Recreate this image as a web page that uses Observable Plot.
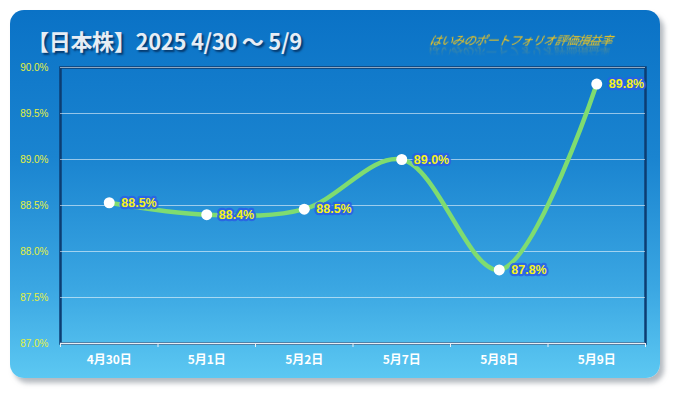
<!DOCTYPE html>
<html><head><meta charset="utf-8">
<script src="https://cdn.jsdelivr.net/npm/d3@7"></script>
<script src="https://cdn.jsdelivr.net/npm/@observablehq/plot@0.6"></script>
<style>
html,body{margin:0;padding:0;background:#fff;}
#wrap{position:relative;width:675px;height:393px;overflow:hidden;}
#card{position:absolute;left:10px;top:10px;width:650px;height:368px;border-radius:14px;
 background:linear-gradient(to bottom,#0a72c6 0%,#1a84d0 40%,#3aa6e2 75%,#5cc8f2 100%);
 box-shadow:4px 5px 5px rgba(120,130,140,0.55);}
#title{position:absolute;left:27px;top:24px;font-family:"Noto Sans CJK JP";font-weight:700;font-size:22px;
 color:#e6edf5;text-shadow:2px 2px 2px rgba(0,30,70,0.7);letter-spacing:-0.3px;white-space:nowrap;}
#sub{position:absolute;left:430px;top:31px;font-family:"Noto Sans CJK JP";font-style:italic;font-size:12px;
 color:#f8c818;white-space:nowrap;transform:skewX(-12deg);letter-spacing:-0.6px;
 -webkit-box-reflect:below -4px linear-gradient(transparent 30%,rgba(255,255,255,0.45));}
#chart{position:absolute;left:0;top:0;}
</style></head>
<body><div id="wrap"><div id="card"></div>
<div id="title">【日本株】2025 4/30 〜 5/9</div>
<div id="sub">はいみのポートフォリオ評価損益率</div>
<div id="chart"></div></div>
<script>
const dates = ["4月30日","5月1日","5月2日","5月7日","5月8日","5月9日"];
const rates = [88.53, 88.40, 88.46, 89.00, 87.80, 89.82];
const labels = ["88.5%","88.4%","88.5%","89.0%","87.8%","89.8%"];
const yTicks = [87.0, 87.5, 88.0, 88.5, 89.0, 89.5, 90.0];

const data = dates.map((d,i)=>({i, d, v: rates[i], label: labels[i]}));
const bounds = d3.range(-0.5, dates.length, 1);

const chart = Plot.plot({
  width: 675, height: 393,
  marginLeft: 60, marginRight: 30, marginTop: 67, marginBottom: 50,
  style: {background: "transparent", overflow: "visible"},
  x: {type: "linear", domain: [-0.5, dates.length - 0.5], label: null},
  y: {domain: [87, 90], label: null},
  marks: [
    Plot.frame({stroke: "#0c3d72", strokeWidth: 2.5}),
    Plot.gridY(yTicks.slice(1), {stroke: "#ffffff", strokeOpacity: 0.55, strokeWidth: 1}),
    Plot.ruleY([87], {stroke: "#e8eef4", strokeWidth: 1.5}),
    Plot.axisY(yTicks, {tickSize: 0, tickPadding: 12, tickFormat: d => d.toFixed(1) + "%", label: null,
      fill: "#e4f040", fontSize: 10, fontFamily: "Liberation Sans"}),
    Plot.axisX(bounds, {tickSize: 4, stroke: "#e8eef4", tickFormat: () => "", label: null}),
    Plot.axisX(d3.range(dates.length), {tickSize: 0, tickPadding: 12, tickFormat: i => dates[i], label: null,
      fill: "#ffffff", fontSize: 12, fontWeight: "bold", fontFamily: "Noto Sans CJK JP",
      style: "text-shadow: 1px 1px 1px rgba(0,40,90,0.8)"}),
    Plot.line(data, {x: "i", y: "v", curve: "catmull-rom", stroke: "#7fdc70", strokeWidth: 4.5}),
    Plot.dot(data, {x: "i", y: "v", r: 5.5, fill: "#ffffff", stroke: "none"}),
    Plot.text(data, {x: "i", y: "v", text: "label", dx: 12, textAnchor: "start",
      fill: "#f6f21a", stroke: "#2a5fe6", strokeWidth: 4.5, strokeOpacity: 0.85,
      fontSize: 12.5, fontWeight: "bold", fontFamily: "Liberation Sans"})
  ]
});
document.getElementById("chart").appendChild(chart);
</script></body></html>
